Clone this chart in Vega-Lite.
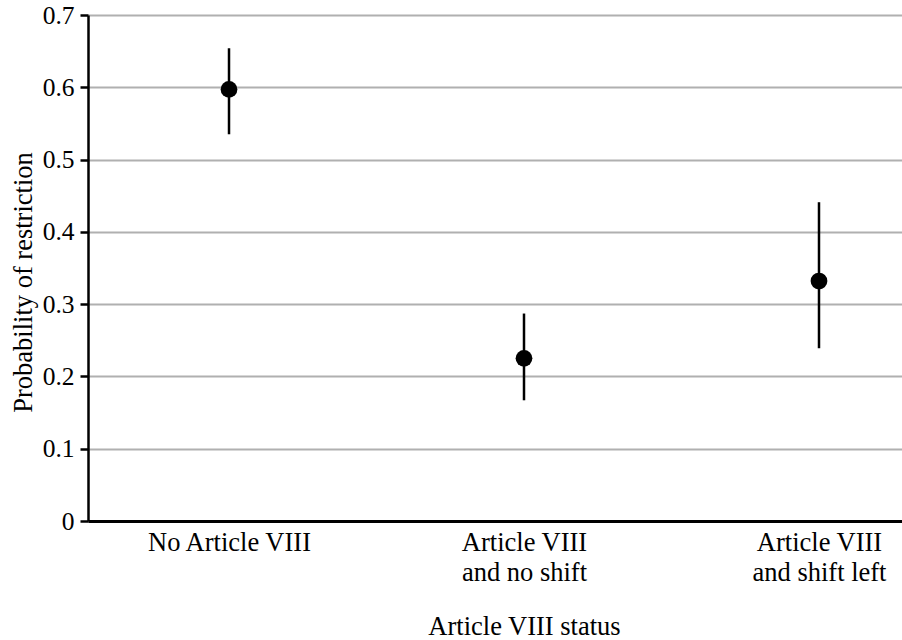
{
  "$schema": "https://vega.github.io/schema/vega-lite/v6.json",
  "autosize": {"type": "none"},
  "padding": {"left": 88, "top": 15, "right": 0, "bottom": 119},
  "width": 872,
  "height": 506,
  "background": "white",
  "data": {
    "values": [
      {"status": "No Article VIII", "estimate": 0.597, "lower": 0.535, "upper": 0.654},
      {"status": "Article VIII and no shift", "estimate": 0.225, "lower": 0.167, "upper": 0.287},
      {"status": "Article VIII and shift left", "estimate": 0.332, "lower": 0.239, "upper": 0.441}
    ]
  },
  "config": {
    "view": {"stroke": null},
    "font": "Liberation Serif",
    "axis": {
      "labelFont": "Liberation Serif",
      "titleFont": "Liberation Serif",
      "labelColor": "black",
      "titleColor": "black",
      "titleFontWeight": "normal",
      "domainColor": "black",
      "tickColor": "black"
    }
  },
  "encoding": {
    "x": {
      "field": "status",
      "type": "nominal",
      "sort": null,
      "scale": {"type": "point", "padding": 0.478},
      "axis": {
        "title": "Article VIII status",
        "labelAngle": 0,
        "labelFontSize": 26.5,
        "titleFontSize": 26.5,
        "labelLineHeight": 30,
        "labelPadding": 8,
        "titlePadding": 28,
        "ticks": false,
        "domainWidth": 3,
        "grid": false,
        "labelExpr": "indexof(datum.label, ' and ') > 0 ? [slice(datum.label, 0, indexof(datum.label, ' and ')), slice(datum.label, indexof(datum.label, ' and ') + 1)] : datum.label"
      }
    }
  },
  "layer": [
    {
      "mark": {"type": "rule", "color": "black", "strokeWidth": 2.5},
      "encoding": {
        "y": {
          "field": "lower",
          "type": "quantitative",
          "scale": {"domain": [0, 0.7], "nice": false},
          "axis": {
            "title": "Probability of restriction",
            "values": [0, 0.1, 0.2, 0.3, 0.4, 0.5, 0.6, 0.7],
            "labelExpr": "datum.value == 0 ? '0' : format(datum.value, '.1f')",
            "labelFontSize": 25.5,
            "titleFontSize": 26.5,
            "tickSize": 8,
            "tickWidth": 2.5,
            "domainWidth": 2.5,
            "labelPadding": 6,
            "titlePadding": 5,
            "titleY": 267,
            "grid": true,
            "gridColor": "#b0b0b0",
            "gridWidth": 2,
            "gridOpacity": 1
          }
        },
        "y2": {"field": "upper"}
      }
    },
    {
      "mark": {"type": "point", "filled": true, "color": "black", "size": 280, "opacity": 1, "shape": "circle"},
      "encoding": {
        "y": {"field": "estimate", "type": "quantitative"}
      }
    }
  ]
}
